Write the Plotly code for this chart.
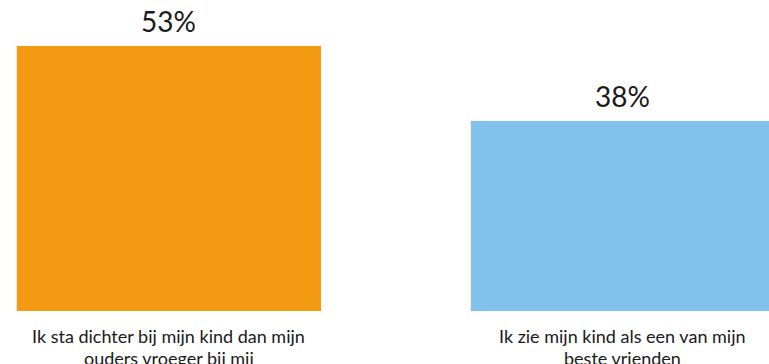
import plotly.graph_objects as go

categories = ["Ik sta dichter bij mijn kind dan mijn<br>ouders vroeger bij mij",
              "Ik zie mijn kind als een van mijn<br>beste vrienden"]
values = [53, 38]
value_labels = ["53%", "38%"]
colors = ["#F39912", "#80C2EC"]

fig = go.Figure()
fig.add_trace(go.Bar(
    x=categories, y=values, width=0.67,
    marker=dict(color=colors, line=dict(width=0)),
    hoverinfo="skip",
))
for c, v, t in zip(categories, values, value_labels):
    fig.add_annotation(x=c, y=v, text=t, showarrow=False, yanchor="bottom",
                       yshift=6, font=dict(family="Lato", size=28, color="#1a1a1a"))
    # category label, one annotation per line for tighter line spacing
    for i, line in enumerate(c.split("<br>")):
        fig.add_annotation(x=c, y=0, yref="paper", text=line, showarrow=False,
                           yanchor="top", yshift=-(13 + 22 * i), borderpad=0,
                           font=dict(family="Lato", size=18, color="#1a1a1a"))

fig.update_layout(
    width=769, height=364,
    margin=dict(l=0, r=0, t=46, b=53),
    paper_bgcolor="white", plot_bgcolor="white",
    showlegend=False,
    font=dict(family="Lato", size=18, color="#1a1a1a"),
    xaxis=dict(range=[-0.372, 1.3216], showgrid=False, zeroline=False,
               showline=False, ticks="", showticklabels=False, automargin=False),
    yaxis=dict(range=[0, 53], visible=False, automargin=False),
)
fig.write_html("out.html", config={"displayModeBar": False},
               post_script="document.body.style.margin='0';document.body.style.overflow='hidden';")
